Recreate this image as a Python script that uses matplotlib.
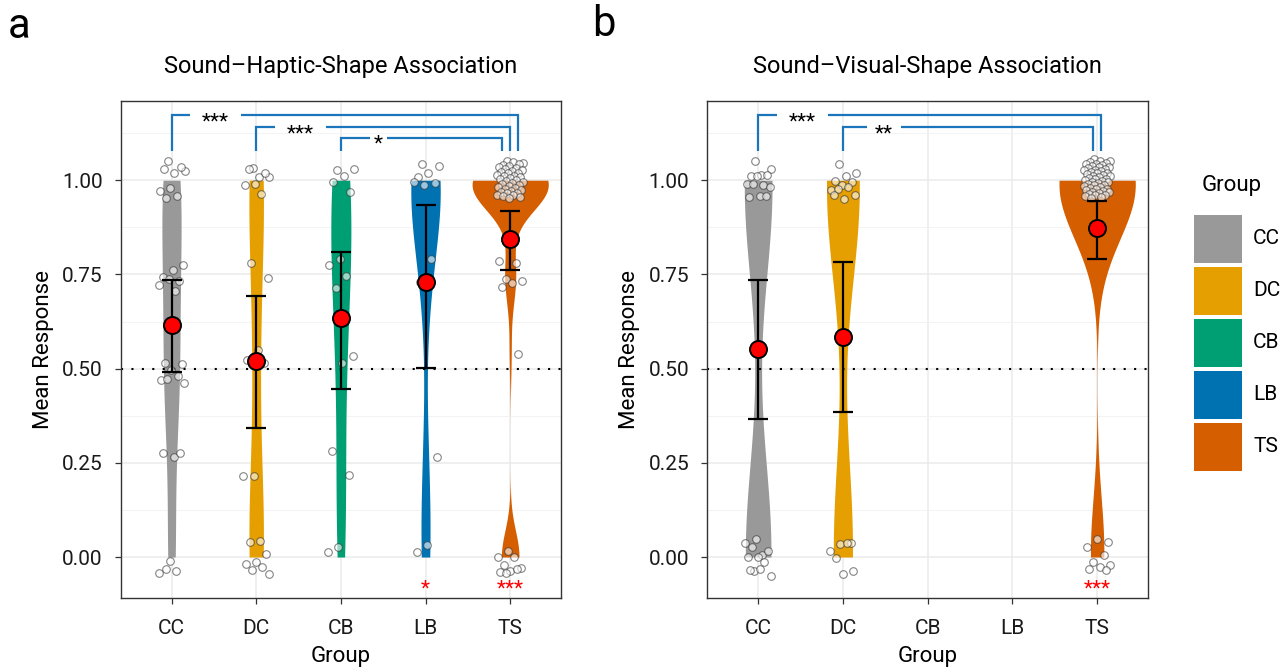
import numpy as np
import matplotlib
matplotlib.use("Agg")
import matplotlib.pyplot as plt
from matplotlib import font_manager, transforms
from matplotlib.patches import Rectangle

# ---------------- data ----------------
groups = ["CC", "DC", "CB", "LB", "TS"]
colors = ["#999999", "#E69F00", "#009E73", "#0072B2", "#D55E00"]

# Panel a: Sound-Haptic-Shape association (individual mean responses as plotted)
cc_a = [1.051, 1.025, 1.020, 1.030, 1.034, 0.979, 0.971, 0.958, 0.952, 0.775, 0.761,
        0.743, 0.732, 0.738, 0.722, 0.706, 0.514, 0.512, 0.496, 0.469, 0.481, 0.472,
        0.461, 0.266, 0.276, 0.276, -0.011, -0.043, -0.036, -0.031]
dc_a = [1.033, 1.008, 1.008, 1.029, 1.019, 0.991, 0.988, 0.963, 0.781, 0.740, 0.549,
        0.523, 0.514, 0.215, 0.215, 0.043, 0.039, 0.007, -0.012, -0.019, -0.027,
        -0.034, -0.045]
cb_a = [1.027, 1.029, 1.010, 0.996, 0.970, 0.791, 0.775, 0.747, 0.713, 0.533, 0.514,
        0.282, 0.217, 0.027, 0.013]
lb_a = [1.043, 1.038, 1.020, 1.008, 0.992, 0.986, 0.995, 0.792, 0.729, 0.266, 0.031,
        0.013]
ts_a = [1.050, 1.045, 1.048, 1.040, 1.043, 1.038, 1.035, 1.032, 1.030, 1.028, 1.025,
        1.022, 1.020, 1.018, 1.015, 1.012, 1.010, 1.008, 1.005, 1.003, 1.000, 0.998,
        0.995, 0.993, 0.990, 0.988, 0.985, 0.982, 0.980, 0.977, 0.975, 0.972, 0.970,
        0.967, 0.965, 0.962, 0.960, 0.957, 0.955, 0.952,
        0.785, 0.780, 0.738, 0.732, 0.726, 0.717, 0.540,
        0.016, 0.001, -0.001, -0.020, -0.030, -0.037, -0.039, -0.032, -0.042]

# Panel b: Sound-Visual-Shape association
cc_b = [1.050, 1.029, 1.015, 1.010, 1.013, 1.011, 0.989, 0.987, 0.991, 0.983, 0.958,
        0.955, 0.958, 0.047, 0.038, 0.005, 0.026, 0.017, 0.001, 0.001, -0.012,
        -0.038, -0.049, -0.033, -0.034]
dc_b = [1.043, 1.019, 1.010, 0.999, 0.996, 0.988, 0.975, 0.981, 0.978, 0.962, 0.951,
        0.962, 0.038, 0.034, 0.017, 0.036, -0.003, -0.036, -0.044]
ts_b = [1.056, 1.052, 1.050, 1.048, 1.046, 1.044, 1.042, 1.040, 1.038, 1.036, 1.034,
        1.032, 1.030, 1.028, 1.026, 1.024, 1.022, 1.020, 1.018, 1.016, 1.014, 1.012,
        1.010, 1.008, 1.006, 1.004, 1.002, 1.000, 0.998, 0.996, 0.994, 0.992, 0.990,
        0.988, 0.986, 0.984, 0.982, 0.980, 0.978, 0.976, 0.974, 0.972, 0.970, 0.968,
        0.966, 0.964, 0.962, 0.960, 0.958, 0.955, 0.952,
        0.039, 0.047, 0.026, 0.006, -0.013, -0.021, -0.027, -0.033, -0.035]

# group summary: mean and confidence interval
mean_a = [0.615, 0.521, 0.635, 0.729, 0.843]
low_a = [0.492, 0.343, 0.447, 0.502, 0.762]
high_a = [0.735, 0.693, 0.809, 0.935, 0.917]
mean_b = [0.551, 0.584, np.nan, np.nan, 0.872]
low_b = [0.367, 0.385, np.nan, np.nan, 0.790]
high_b = [0.736, 0.783, np.nan, np.nan, 0.945]

# pairwise comparisons (group 1, group 2, label) and tests against chance
comps_a = [("CC", "TS", "***"), ("DC", "TS", "***"), ("CB", "TS", "*")]
comps_b = [("CC", "TS", "***"), ("DC", "TS", "**")]
chance_a = {"LB": "*", "TS": "***"}
chance_b = {"TS": "***"}

titles = ["Sound\u2013Haptic-Shape Association", "Sound\u2013Visual-Shape Association"]

# ---------------- style ----------------
avail = {f.name for f in font_manager.fontManager.ttflist}
fam = [f for f in ["Liberation Sans Narrow", "Roboto", "DejaVu Sans"] if f in avail]
plt.rcParams["font.family"] = fam

W, H = 1284, 672
fig = plt.figure(figsize=(W / 100, H / 100), dpi=100)


def fx(px):
    return px / W


def fy(py):
    return 1 - py / H


BLUE = "#1B75BB"
TICK_FS = 15


def nrd0(x):
    # Silverman's rule (R's bw.nrd0); spread measured on the response scale
    # with the display jitter removed (values rounded to one decimal)
    r = np.round(np.clip(x, 0, 1), 1)
    hi = np.std(r, ddof=1)
    q75, q25 = np.percentile(r, [75, 25])
    lo = min(hi, (q75 - q25) / 1.34)
    if lo <= 0:
        lo = hi if hi > 0 else 1.0
    return 0.9 * lo * len(x) ** -0.2


def kde(x, grid):
    bw = nrd0(x)
    xc = np.clip(x, 0, 1)
    z = (grid[:, None] - xc[None, :]) / bw
    return np.exp(-0.5 * z ** 2).sum(1) / (len(x) * bw * np.sqrt(2 * np.pi))


def star_text(ax, x, y, s, color, fs):
    tr = transforms.offset_copy(ax.transData, fig=fig, y=-0.57 * fs, units="points")
    ax.text(x, y, s, ha="center", va="baseline", color=color, fontsize=fs,
            transform=tr, zorder=7)


def draw_panel(ax, data, means, lows, highs, comps, chance, title):
    grid = np.linspace(0, 1, 512)
    dens = {}
    for g in groups:
        vals = data.get(g, [])
        if len(vals) > 1:
            dens[g] = kde(np.asarray(vals, float), grid)
    dmax = max(d.max() for d in dens.values())
    for i, g in enumerate(groups):
        if g in dens:
            hw = 0.45 * dens[g] / dmax
            ax.fill_betweenx(grid, i - hw, i + hw, color=colors[i], lw=0, zorder=2)
    ax.axhline(0.5, color="black", lw=1.5, ls=(0, (1, 4)), zorder=2.5)
    for i, g in enumerate(groups):
        vals = np.asarray(data.get(g, []), float)
        if len(vals) == 0:
            continue
        k = np.arange(len(vals))
        jit = ((k * 0.6180339887 + 0.37) % 1.0 - 0.5) * 0.32
        ax.scatter(i + jit, vals, s=30, facecolor="white", edgecolor="#333333",
                   linewidths=0.8, alpha=0.6, zorder=3)
    x = np.arange(len(groups))
    m = np.array(means, float)
    lo = np.array(lows, float)
    hi = np.array(highs, float)
    ok = ~np.isnan(m)
    ax.errorbar(x[ok], m[ok], yerr=[m[ok] - lo[ok], hi[ok] - m[ok]], fmt="none",
                ecolor="black", elinewidth=1.6, capsize=7.5, capthick=1.6, zorder=4)
    ax.scatter(x[ok], m[ok], s=150, c="red", edgecolors="black", linewidths=1.4,
               zorder=5)

    # significance brackets
    ncomp = len(comps)
    step = 0.094 if ncomp == 3 else 0.05
    levels = [1.172, 1.140, 1.113]
    bottom = 1.077
    for k, (g1, g2, lab) in enumerate(comps):
        x1 = groups.index(g1)
        x2 = groups.index(g2) + step * ((ncomp - 1) / 2 - k) * (2 if ncomp == 2 else 1)
        lev = levels[k]
        n = len(lab)
        c = x1 + 0.4 + 0.04 * n
        gap = 0.1 * n
        ax.plot([x1, x1, c - gap], [bottom, lev, lev], color=BLUE, lw=1.6,
                solid_joinstyle="miter", solid_capstyle="butt", zorder=6, clip_on=False)
        ax.plot([c + gap, x2, x2], [lev, lev, bottom], color=BLUE, lw=1.6,
                solid_joinstyle="miter", solid_capstyle="butt", zorder=6, clip_on=False)
        star_text(ax, c, lev, lab, "black", TICK_FS)
    for g, lab in chance.items():
        star_text(ax, groups.index(g), -0.069, lab, "red", TICK_FS)

    ax.set_xlim(-0.6, 4.6)
    ax.set_ylim(-0.1095, 1.211)
    ax.set_xticks(x)
    ax.set_xticklabels(groups)
    ax.set_yticks([0, 0.25, 0.5, 0.75, 1.0])
    ax.set_yticklabels(["0.00", "0.25", "0.50", "0.75", "1.00"])
    ax.set_yticks([0.125, 0.375, 0.625, 0.875, 1.125], minor=True)
    ax.grid(which="major", color="#EBEBEB", lw=1.1)
    ax.grid(which="minor", axis="y", color="#F3F3F3", lw=0.7)
    ax.set_axisbelow(True)
    ax.tick_params(which="minor", length=0)
    ax.tick_params(which="major", length=4, width=0.9, color="#333333",
                   labelsize=TICK_FS, labelcolor="#1a1a1a")
    ax.tick_params(axis="x", pad=11)
    ax.tick_params(axis="y", pad=9)
    for sp in ax.spines.values():
        sp.set_color("#333333")
        sp.set_linewidth(1.0)
    ax.set_xlabel("Group", fontsize=16, labelpad=6)
    ax.set_ylabel("Mean Response", fontsize=16, labelpad=6)
    ax.text(0.5, 1 + (100.7 - 67) / 497.6, title, transform=ax.transAxes,
            ha="center", va="center", fontsize=17)


axA = fig.add_axes([fx(120.7), fy(598.3), fx(561) - fx(120.7), fy(100.7) - fy(598.3)])
axB = fig.add_axes([fx(707.3), fy(598.3), fx(1148) - fx(707.3), fy(100.7) - fy(598.3)])

data_a = {"CC": cc_a, "DC": dc_a, "CB": cb_a, "LB": lb_a, "TS": ts_a}
data_b = {"CC": cc_b, "DC": dc_b, "TS": ts_b}
draw_panel(axA, data_a, mean_a, low_a, high_a, comps_a, chance_a, titles[0])
draw_panel(axB, data_b, mean_b, low_b, high_b, comps_b, chance_b, titles[1])

fig.text(fx(8), fy(26), "a", fontsize=30, ha="left", va="center")
fig.text(fx(592), fy(24), "b", fontsize=30, ha="left", va="center")

# legend
fig.text(fx(1232), fy(185), "Group", fontsize=16, ha="center", va="center")
for i, (g, c) in enumerate(zip(groups, colors)):
    top = 215 + 52 * i
    fig.add_artist(Rectangle((fx(1194), fy(top + 48)), fx(48), 48 / H,
                             transform=fig.transFigure, facecolor=c, edgecolor="none"))
    fig.text(fx(1253), fy(top + 24), g, fontsize=15, ha="left", va="center")

fig.savefig("out.png", dpi=100)
